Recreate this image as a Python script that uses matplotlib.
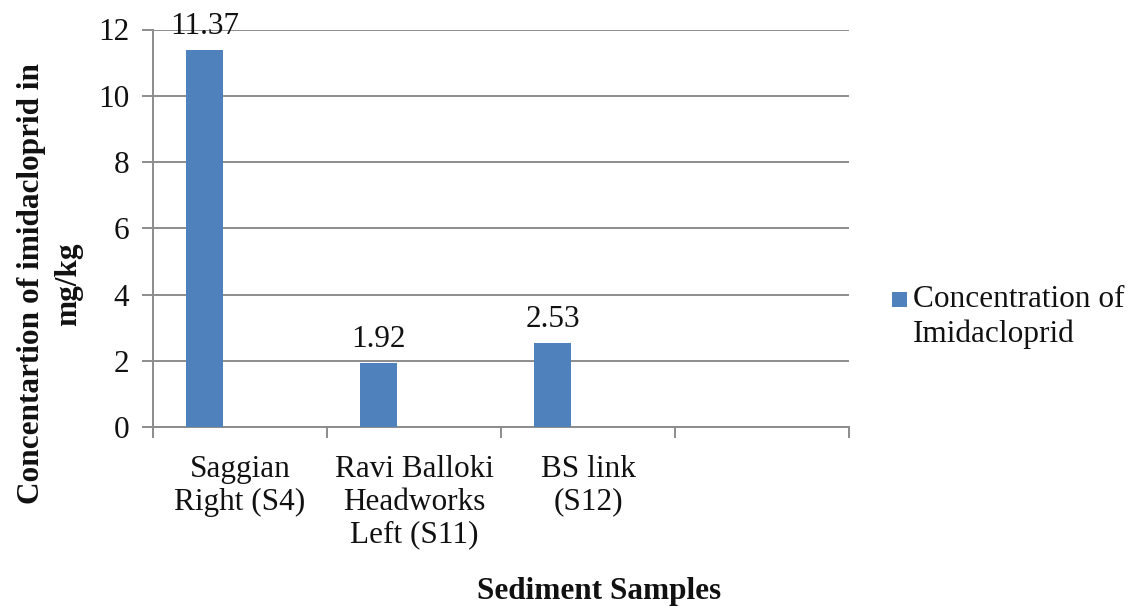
import matplotlib
matplotlib.use("Agg")
import matplotlib.pyplot as plt
from matplotlib.patches import Patch, Rectangle
from matplotlib.legend_handler import HandlerBase

# Sample sites and measured imidacloprid concentrations (mg/kg)
categories = ["Saggian\nRight (S4)", "Ravi Balloki\nHeadworks\nLeft (S11)", "BS link\n(S12)", ""]
values = [11.37, 1.92, 2.53, None]
value_labels = ["11.37", "1.92", "2.53"]
series_name = "Concentration of\nImidacloprid"
y_ticks = [0, 2, 4, 6, 8, 10, 12]

bar_color = "#4F81BD"
grid_color = "#8C8C8C"
text_color = "#111111"
font = "Liberation Serif"
fs = 22.5
legend_linespacing = 1.26

plt.rcParams["font.family"] = [font, "DejaVu Serif"]


class FirstLineSquare(HandlerBase):
    """Square legend key aligned with the first line of a two-line label."""

    def create_artists(self, legend, orig_handle, xdescent, ydescent,
                       width, height, fontsize, trans):
        size = width
        line_step = 0.891 * legend_linespacing * fontsize
        y0 = line_step - 0.44 * fontsize
        rect = Rectangle((-xdescent, y0), size, size,
                         facecolor=orig_handle.get_facecolor(),
                         edgecolor="none", transform=trans)
        return [rect]


fig = plt.figure(figsize=(11.37, 6.07), dpi=100)
ax = fig.add_axes([153 / 1137, 1 - 427 / 607, (849 - 153) / 1137, (427 - 29.5) / 607])

xs = list(range(len(categories)))
bar_offset = -0.204
bar_width = 0.213
for x, v, lab in zip(xs, values, value_labels + [None]):
    if v is None:
        continue
    ax.bar(x + bar_offset, v, width=bar_width, color=bar_color, zorder=3)
    ax.annotate(lab, (x + bar_offset, v), xytext=(0, 12), textcoords="offset points",
                ha="center", va="baseline", fontsize=fs, color=text_color, zorder=4)

ax.set_xlim(-0.5, len(categories) - 0.5)
ax.set_ylim(0, 12)
ax.set_yticks(y_ticks)
ax.yaxis.grid(True, color=grid_color, linewidth=1.4, zorder=0)
ax.set_axisbelow(True)

# category labels at slot centres, tick marks at slot boundaries
ax.set_xticks(xs)
ax.set_xticklabels(categories, fontsize=fs, linespacing=1.17)
ax.set_xticks([i - 0.5 for i in range(len(categories) + 1)], minor=True)
ax.tick_params(axis="x", which="major", length=0, pad=20, colors=text_color)
ax.tick_params(axis="x", which="minor", length=8, width=1.4, color=grid_color)
ax.tick_params(axis="y", length=8, width=1.4, color=grid_color, labelsize=fs,
               labelcolor=text_color, pad=9)

for side in ["top", "right"]:
    ax.spines[side].set_visible(False)
for side in ["left", "bottom"]:
    ax.spines[side].set_color(grid_color)
    ax.spines[side].set_linewidth(1.4)

fig.text(50 / 1137, 1 - 284 / 607, "Concentartion of imidacloprid in\nmg/kg",
         rotation=90, ha="center", va="center", fontsize=fs, fontweight="bold",
         linespacing=1.4, color=text_color)
fig.text(599 / 1137, 1 - 591 / 607, "Sediment Samples", ha="center", va="center",
         fontsize=fs, fontweight="bold", color=text_color)

handle = Patch(facecolor=bar_color, edgecolor="none")
leg = fig.legend([handle], [series_name], loc="upper left",
                 bbox_to_anchor=(892 / 1137, 1 - 285 / 607), frameon=False,
                 fontsize=fs, handlelength=0.48, handleheight=0.7, handletextpad=0.19,
                 borderpad=0, borderaxespad=0, labelspacing=0.2,
                 handler_map={Patch: FirstLineSquare()})
for t in leg.get_texts():
    t.set_linespacing(legend_linespacing)
    t.set_color(text_color)

fig.savefig("out.png", dpi=100)
